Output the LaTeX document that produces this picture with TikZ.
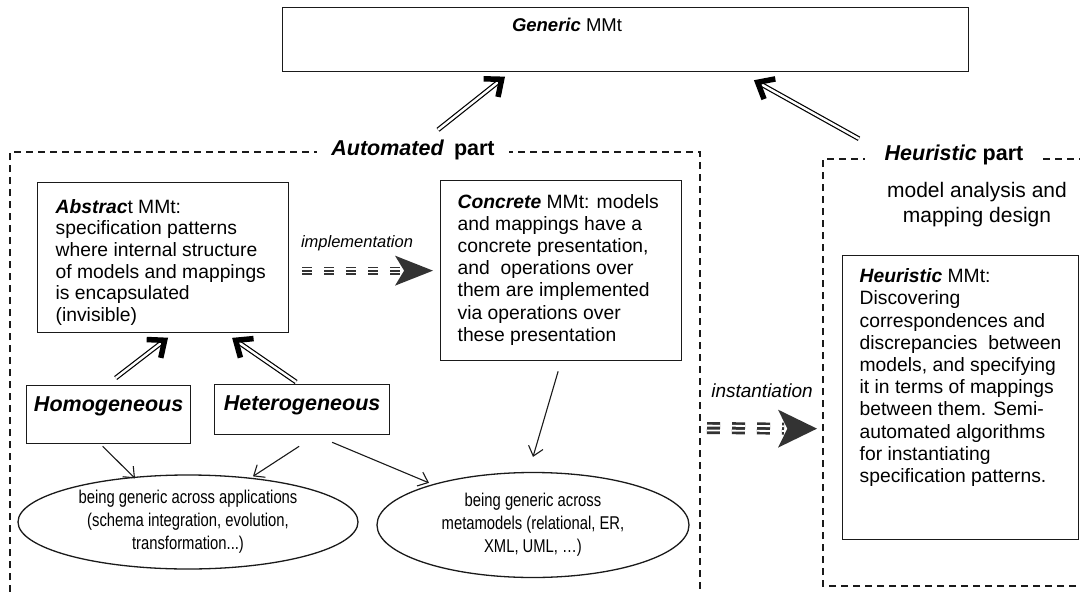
\documentclass[tikz,border=0pt]{standalone}
\usepackage{fontspec}
\setmainfont{Liberation Sans}
\newfontfamily\narrowfont[FakeStretch=0.8]{Liberation Sans}
\usetikzlibrary{calc,arrows.meta,shapes.geometric}
\definecolor{ink}{HTML}{1A1A1A}
\definecolor{tipgray}{HTML}{333333}
\newcommand\boxtext[4]{\begin{minipage}[c][#1][t]{#2}\vspace*{#3}#4\par\end{minipage}}
\newcommand\hollowarr[2]{%
  \draw[hollow, shorten >=4pt] (#1) -- (#2);
  \draw[chev] ($(#2)!18pt!40:(#1)$) -- (#2) -- ($(#2)!18pt!-40:(#1)$);}
% start, tip, length, half height, bar width, stripe offset, dash pattern, stripe width
\newcommand\fatdash[8]{%
  \draw[tipgray, line width=#5, dash pattern=#7] (#1) -- ($(#2)+(-#3+6,0)$);
  \fill[tipgray] (#2) -- ++(-#3,-#4) -- ++(0.24*#3,#4) -- ++(-0.24*#3,#4) -- cycle;
  \draw[white, line width=#8, dash pattern=#7] ($(#1)+(0,-#6)$) -- ($(#2)+(-#3+6,-#6)$);
  \draw[white, line width=#8, dash pattern=#7] ($(#1)+(0,#6)$) -- ($(#2)+(-#3+6,#6)$);}
\begin{document}
\begin{tikzpicture}[x=1pt,y=-1pt,
  mbox/.style={draw=ink, line width=1.3pt, anchor=north west, inner ysep=0pt,
    font=\fontsize{19.3pt}{21.7pt}\selectfont},
  lbox/.style={draw=ink, line width=1.3pt, anchor=north west, inner sep=0pt,
    font=\fontsize{21.5pt}{24pt}\selectfont\bfseries\itshape},
  part/.style={draw=ink, line width=1.2pt, dash pattern=on 7pt off 5pt},
  hollow/.style={draw=black, double=white, double distance=2.4pt, line width=1.2pt},
  chev/.style={draw=black, line width=5.5pt, line join=miter, line cap=butt},
  thinarrow/.style={draw=ink, line width=1.1pt, -{Straight Barb[length=9pt,width=15pt]}},
  ell/.style={draw=ink, ellipse, line width=1.3pt, inner sep=0pt, align=center,
    font=\narrowfont\fontsize{18.5pt}{23pt}\selectfont},
  plabel/.style={fill=white, inner ysep=2pt, font=\fontsize{21.5pt}{24pt}\selectfont},
  elabel/.style={font=\fontsize{16.5pt}{18pt}\selectfont\itshape}
]
\useasboundingbox (0,0) rectangle (1080,592);
\fill[white] (0,0) rectangle (1080,592);

% dashed parts
\draw[part] (10,640) -- (10,152) -- (700,152) -- (700,640);
\draw[part] (1100,586) -- (823,586) -- (823,159) -- (1100,159);
\node[plabel, inner xsep=14pt] (autolbl) at (413,150) {\textbf{\textit{Automated}}\hspace{4pt} \textbf{part}};
\node[plabel, inner xsep=20pt] (heurlbl) at (954,155) {\textbf{\textit{Heuristic}} \textbf{part}};

% generic box
\node[draw=ink, line width=1.3pt, anchor=north west, minimum width=686pt, minimum height=64pt, inner sep=0pt] (generic) at (282,7) {};
\node[font=\fontsize{18.5pt}{20pt}\selectfont] (genlbl) at (567,25) {\textbf{\textit{Generic}} MMt};

% abstract
\node[mbox, inner xsep=18pt] (abs) at (37,182) {\boxtext{150pt}{215pt}{16.4pt}{\raggedright
\textbf{\textit{Abstrac}}t MMt:\\
specification patterns\\
where internal structure\\
of models and mappings\\
is encapsulated\\
(invisible)}};

% concrete
\node[mbox, inner xsep=17pt, font=\fontsize{19.3pt}{22.2pt}\selectfont] (conc) at (440,180) {\boxtext{180pt}{207pt}{13.4pt}{\raggedright
\textbf{\textit{Concrete}} MMt: models\\
and mappings have a\\
concrete presentation,\\
and\ \ operations over\\
them are implemented\\
via operations over\\
these presentation}};

% heuristic
\node[mbox, inner xsep=17pt, font=\fontsize{19.3pt}{22.2pt}\selectfont] (heur) at (842,255) {\boxtext{284pt}{202pt}{13pt}{\raggedright
\textbf{\textit{Heuristic}} MMt:\\
Discovering\\
correspondences and\\
discrepancies\ \ between\\
models, and specifying\\
it in terms of mappings\\
between them. Semi-\\
automated algorithms\\
for instantiating\\
specification patterns.}};

\node[align=center, font=\fontsize{21pt}{25pt}\selectfont] (mad) at (977,205) {model analysis and\\mapping design};

% homogeneous / heterogeneous
\node[lbox] (homo) at (26,385) {\boxtext{58pt}{164pt}{11.3pt}{\centering Homogeneous}};
\node[lbox] (het) at (214,384) {\boxtext{50pt}{175pt}{11.3pt}{\centering Heterogeneous}};

% ellipses
\node[ell, minimum width=340pt, minimum height=94pt] (ell1) at (188,522) {being generic across applications\\(schema integration, evolution,\\transformation...)};
\node[ell, minimum width=312pt, minimum height=105pt] (ell2) at (533,525) {being generic across\\metamodels (relational, ER,\\XML, UML, …)};

% edge labels
\node[elabel] (impl) at (357,243) {implementation};
\node[elabel, font=\fontsize{19pt}{20pt}\selectfont\itshape] (inst) at (762,391) {instantiation};

% hollow arrows
\coordinate (h1s) at ($(autolbl.north)+(25,-8)$);
\coordinate (h1e) at ($(generic.south)+(-124,7)$);
\coordinate (h2s) at ($(heurlbl.north)+(-95,-4)$);
\coordinate (h2e) at ($(generic.south)+(132,10)$);
\coordinate (h3s) at ($(homo.north)+(7,-7)$);
\coordinate (h3e) at ($(abs.south)+(1.5,7)$);
\coordinate (h4s) at ($(het.north)+(-6,-2)$);
\coordinate (h4e) at ($(abs.south)+(72.5,7)$);
\hollowarr{h1s}{h1e}
\hollowarr{h2s}{h2e}
\hollowarr{h3s}{h3e}
\hollowarr{h4s}{h4e}

% fat dashed arrows
\coordinate (i1s) at ($(abs.east)+(13,13)$);
\coordinate (i1e) at ($(conc.west)+(-7,0)$);
\fatdash{i1s}{i1e}{38}{15}{8pt}{1.6}{on 10pt off 12pt}{1.2pt}
\coordinate (i2s) at (707,428);
\coordinate (i2e) at ($(heur.west)+(-25,31)$);
\fatdash{i2s}{i2e}{39}{19}{12pt}{2.4}{on 13pt off 12pt}{1.8pt}

% thin arrows
\draw[thinarrow] ($(homo.south)+(-6,2)$) -- ($(ell1.north)+(-53,4)$);
\draw[thinarrow] ($(het.south)+(-3,11)$) -- ($(ell1.north)+(65,2)$);
\draw[thinarrow] ($(het.south)+(30,7)$) -- ($(ell2.north)+(-104,11)$);
\draw[thinarrow] ($(conc.south)+(-3,10)$) -- ($(ell2.north)+(0,-15)$);
\end{tikzpicture}
\end{document}
